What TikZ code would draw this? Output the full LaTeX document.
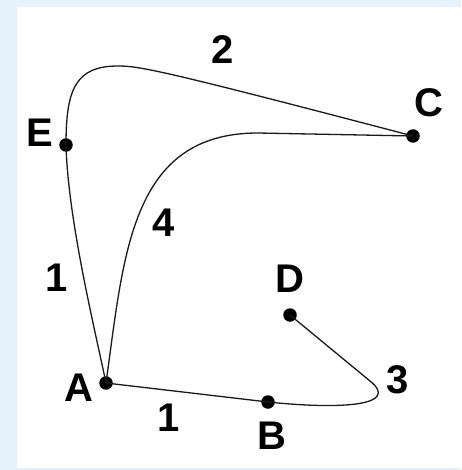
\documentclass[tikz,border=0pt]{standalone}
\usepackage{fontspec}
\setmainfont{Liberation Sans}
\usepackage{tikz}
\usetikzlibrary{positioning}
\definecolor{paleblue}{RGB}{230,243,252}

\begin{document}
\begin{tikzpicture}[x=1pt,y=-1pt,
  dot/.style={circle,fill=black,inner sep=0pt,minimum size=13.5pt},
  lbl/.style={font=\fontsize{40}{40}\selectfont\bfseries,inner sep=0pt,text height=28.6pt,text depth=0pt},
  wire/.style={line width=1.3pt,black!90}
]
  \fill[paleblue] (0,0) rectangle (461,470);
  \fill[white] (17,7) rectangle (461,468);

  \node[dot] (A) at (106,383) {};
  \node[dot] (B) at (268,402) {};
  \node[dot] (C) at (413,136) {};
  \node[dot] (D) at (290,315) {};
  \node[dot] (E) at (66,145) {};

  \node[lbl] (labA) at (79,387) {A};
  \node[lbl] (labB) at (272,435) {B};
  \node[lbl] (labC) at (429,102) {C};
  \node[lbl] (labD) at (290,278) {D};
  \node[lbl] (labE) at (40,132) {E};

  \node[lbl] (wEA) at (57,277) {1};
  \node[lbl] (wAB) at (169,417) {1};
  \node[lbl] (wEC) at (223,49) {2};
  \node[lbl] (wBD) at (398,379) {3};
  \node[lbl] (wAC) at (164,222) {4};

  \draw[wire] (E.center) .. controls (68,220) and (95,330) .. (A.center);
  \draw[wire] (A.center) -- (B.center);
  \draw[wire] (E.center) .. controls (66,90) and (75,66) .. (118,66)
    .. controls (140,66) and (165,71) .. (C.center);
  \draw[wire] (A.center) .. controls (124,255) and (130,133) .. (258,133) -- (C.center);
  \draw[wire] (B.center) .. controls (345,410) and (400,405) .. (370,381) -- (D.center);
\end{tikzpicture}
\end{document}
